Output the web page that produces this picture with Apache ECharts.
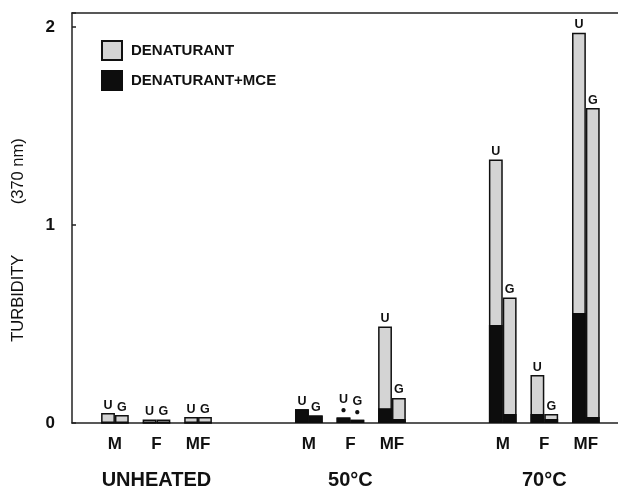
<!DOCTYPE html>
<html><head><meta charset="utf-8">
<script src="https://cdn.jsdelivr.net/npm/echarts@6/dist/echarts.min.js"></script>
<style>html,body{margin:0;padding:0;background:#fff}#c{width:618px;height:486px}</style>
</head><body><div id="c"></div>
<script>
// ---- data ----
const groups = ['UNHEATED', '50°C', '70°C'];
const samples = ['M', 'F', 'MF'];
// flattened group-major: UNHEATED M,F,MF | 50°C M,F,MF | 70°C M,F,MF
const totalU = [0.05, 0.018, 0.03, 0.07, 0.028, 0.487, 1.33, 0.242, 1.97];
const blackU = [0, 0, 0, 0.07, 0.028, 0.075, 0.495, 0.045, 0.555];
const totalG = [0.04, 0.018, 0.03, 0.038, 0.017, 0.126, 0.633, 0.045, 1.59];
const blackG = [0, 0, 0, 0.038, 0.017, 0.02, 0.045, 0.02, 0.03];
const starred = [false, false, false, false, true, false, false, false, false];
const barTags = ['U', 'G'];
const yTicks = [0, 1, 2];

// ---- layout helpers (slot units on the x value axis) ----
const pairStart = (g, k) => 2.1 + 14 * g + 3 * k;
const grayData = [], blackData = [], pairCenters = [], pairLabel = {};
const groupCenters = [], groupLabel = {};
groups.forEach((gName, g) => {
  samples.forEach((s, k) => {
    const i = g * 3 + k;
    const x0 = pairStart(g, k);
    grayData.push({ value: [x0 + 0.5, totalU[i]], tag: barTags[0], star: starred[i] });
    grayData.push({ value: [x0 + 1.5, totalG[i]], tag: barTags[1], star: starred[i] });
    blackData.push({ value: [x0 + 0.5, blackU[i]] });
    blackData.push({ value: [x0 + 1.5, blackG[i]] });
    const c = x0 + 1;
    pairCenters.push(c);
    pairLabel[c.toFixed(1)] = s;
  });
  const gc = pairStart(g, 1) + 1;
  groupCenters.push(gc);
  groupLabel[gc.toFixed(1)] = gName;
});

const FONT = 'Liberation Sans, Arial, Helvetica, sans-serif';
const AX = { color: '#222', width: 1.5 };
const BW = 13.85;
const XMAX = 39.42;

const chart = echarts.init(document.getElementById('c'), null, { renderer: 'canvas' });
chart.setOption({
  animation: false,
  backgroundColor: '#fff',
  grid: { left: 72, right: 0, top: 13, bottom: 63, outerBoundsMode: 'none', containLabel: false },
  legend: {
    orient: 'vertical', left: 101, top: 40, padding: 0,
    itemWidth: 20, itemHeight: 19, itemGap: 9,
    icon: 'rect',
    data: ['DENATURANT', 'DENATURANT+MCE'],
    textStyle: { fontFamily: FONT, fontWeight: 'bold', fontSize: 15, color: '#111', padding: [0, 0, 0, 4] }
  },
  xAxis: [{
    type: 'value', min: 0, max: XMAX, position: 'bottom',
    axisLine: { show: true, onZero: false, lineStyle: AX },
    axisTick: { show: false },
    splitLine: { show: false },
    axisLabel: {
      show: true, customValues: pairCenters, margin: 13, showMinLabel: true, showMaxLabel: true,
      fontFamily: FONT, fontWeight: 'bold', fontSize: 17, color: '#111',
      formatter: v => pairLabel[Number(v).toFixed(1)] || ''
    }
  }, {
    type: 'value', min: 0, max: XMAX, position: 'top',
    axisLine: { show: true, onZero: false, lineStyle: AX },
    axisTick: { show: false }, axisLabel: { show: false }, splitLine: { show: false }
  }, {
    type: 'value', min: 0, max: XMAX, position: 'bottom', offset: 0,
    axisLine: { show: false, onZero: false }, axisTick: { show: false }, splitLine: { show: false },
    axisLabel: {
      show: true, customValues: groupCenters, margin: 47, showMinLabel: true, showMaxLabel: true,
      fontFamily: FONT, fontWeight: 'bold', fontSize: 20, color: '#111',
      formatter: v => groupLabel[Number(v).toFixed(1)] || ''
    }
  }],
  yAxis: {
    type: 'value', min: 0, max: 2.07, interval: 1,
    axisLine: { show: true, onZero: false, lineStyle: AX },
    axisTick: { show: true, inside: true, length: 4, lineStyle: AX },
    splitLine: { show: false },
    axisLabel: {
      margin: 17, fontFamily: FONT, fontWeight: 'bold', fontSize: 17, color: '#111',
      formatter: v => (yTicks.indexOf(v) >= 0 ? String(v) : '')
    },
    name: 'TURBIDITY           (370 nm)', nameLocation: 'middle', nameGap: 45,
    nameTextStyle: { fontFamily: FONT, fontSize: 16.5, color: '#111', padding: [0, 44, 0, 0] }
  },
  series: [{
    name: 'DENATURANT', type: 'bar', xAxisIndex: 0, barWidth: BW, barGap: '-100%',
    data: grayData,
    itemStyle: { color: '#d4d4d4', borderColor: '#111', borderWidth: 1.5 },
    label: {
      show: true, position: 'top', distance: 2,
      fontFamily: FONT, fontWeight: 'bold', fontSize: 12.5, color: '#111', lineHeight: 12,
      formatter: p => p.data.tag + (p.data.star ? '\n{d|●}' : ''),
      rich: { d: { fontSize: 10, lineHeight: 10, color: '#111' } }
    }
  }, {
    name: 'DENATURANT+MCE', type: 'bar', xAxisIndex: 0, barWidth: BW, barGap: '-100%',
    data: blackData,
    itemStyle: { color: '#0d0d0d', borderColor: '#0d0d0d', borderWidth: 1.5 }
  }]
});
</script></body></html>
